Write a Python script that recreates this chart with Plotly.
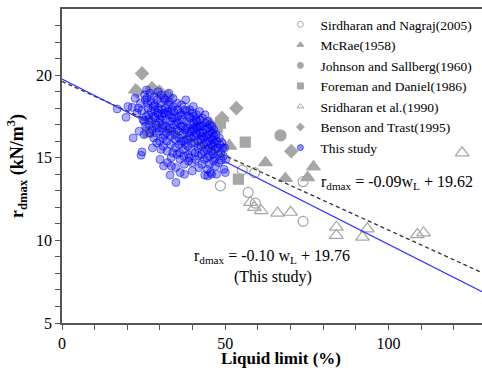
import plotly.graph_objects as go

# ---- Literature data: liquid limit (%) vs. maximum dry unit weight (kN/m3) ----
nagraj_ll = [37.5, 48.5, 48.5, 55.2, 57.0, 59.0, 59.2, 73.8, 73.8]
nagraj_rd = [18.0, 15.9, 13.3, 14.25, 12.9, 14.1, 12.25, 13.55, 11.15]

mcrae_ll = [22.5, 27.5, 41.0, 45.4, 49.0, 51.3, 62.3, 68.4, 75.2, 77.0]
mcrae_rd = [19.1, 19.2, 16.9, 17.1, 17.4, 15.7, 14.7, 13.75, 13.8, 14.45]

johnson_ll = [66.9]
johnson_rd = [16.35]

foreman_ll = [26.4, 47.5, 48.5, 56.1, 54.0]
foreman_rd = [16.55, 16.8, 17.1, 15.95, 13.7]

sridharan_ll = [51.2, 57.7, 58.9, 61.0, 66.0, 70.0, 84.0, 84.0, 93.5, 92.0, 108.8, 110.7, 122.5]
sridharan_rd = [15.75, 12.3, 12.0, 11.8, 11.65, 11.7, 10.8, 10.3, 10.7, 10.2, 10.35, 10.45, 15.3]

benson_ll = [24.5, 23.0, 27.6, 29.8, 32.5, 49.0, 53.4, 70.2]
benson_rd = [20.1, 19.0, 19.2, 19.0, 18.7, 17.4, 18.0, 15.4]

# ---- This study ----
study_ll = [
    16.9, 19.6, 20.2, 21.5, 21.8, 22.4, 23.0, 23.4,
    23.6, 24.0, 24.2, 24.5, 24.8, 25.1, 25.3, 25.5, 25.8, 24.4,
    25.2, 25.6, 26.0, 26.3, 26.5, 26.7, 26.9, 25.9, 26.2, 26.6, 27.0, 27.2,
    27.3, 27.4, 27.6, 27.7, 27.9, 28.0, 28.1, 28.2, 28.4, 28.5, 28.6, 28.8,
    28.9, 29.0, 29.1, 29.2, 29.3, 29.4, 29.5, 29.6, 29.7, 29.8, 29.9, 30.0,
    30.1, 30.2, 30.3, 30.4, 30.5, 30.6, 30.7, 30.8, 30.9, 31.0, 31.1, 31.2,
    31.3, 31.4, 31.5, 31.6, 31.7, 31.8, 31.9, 32.0, 32.1, 32.2, 32.3, 32.4,
    32.5, 32.6, 32.7, 32.8, 32.9, 33.0, 33.1, 33.2, 33.3, 33.4, 33.5, 33.6,
    33.7, 33.8, 33.9, 34.0, 34.1, 34.2, 34.3, 34.4, 34.5, 34.6, 34.7, 34.8,
    33.1, 34.9, 35.0, 35.1, 35.2, 35.3, 35.4, 35.5, 35.6, 35.7, 35.8, 35.9,
    36.0, 36.1, 36.2, 36.3, 36.4, 36.5, 36.6, 36.7, 36.8, 36.9, 37.0, 37.1,
    37.2, 37.3, 37.4, 37.5, 37.6, 37.7, 37.8, 37.9, 38.0, 38.1, 38.2, 38.3,
    38.4, 38.5, 38.6, 38.7, 38.8, 38.9, 39.0, 39.1, 39.2, 39.3, 39.4, 39.5,
    39.6, 39.7, 39.8, 39.9, 40.0, 40.1, 40.2, 40.3, 40.4, 40.5, 40.6, 40.7,
    40.8, 40.9, 41.0, 41.1, 41.2, 41.3, 41.4, 41.5, 41.6, 41.7, 41.8, 41.9,
    42.0, 42.1, 42.2, 42.3, 42.4, 42.5, 42.6, 42.7, 42.8, 42.9, 43.0, 43.1,
    43.2, 43.3, 43.4, 43.5, 43.6, 43.7, 43.8, 43.9, 44.0, 44.1, 44.2, 44.3,
    44.4, 44.5, 44.6, 44.7, 44.8, 44.9, 45.0, 45.1, 45.2, 45.3, 45.4, 45.5,
    45.6, 45.7, 45.8, 45.9, 46.0, 46.1, 46.2, 46.3, 46.4, 46.5, 46.6, 46.7,
    46.8, 46.9, 47.0, 47.2, 47.4, 47.6, 47.8, 48.0, 48.2, 48.4, 48.6, 48.8,
    49.0, 49.2, 49.4, 49.6, 49.8, 50.0, 50.2, 44.6, 45.8, 47.3,
]
study_rd = [
    17.95, 17.45, 18.1, 18.05, 16.2, 18.6, 17.7, 18.0,
    16.6, 18.3, 15.15, 15.35, 17.3, 16.4, 18.8, 18.5, 17.5, 17.85,
    17.2, 16.9, 18.6, 18.0, 17.6, 17.0, 16.5, 19.1, 18.3, 17.3, 18.9, 18.4,
    17.8, 17.2, 16.7, 15.6, 18.1, 17.5, 16.2, 18.7, 18.2, 17.9, 17.4, 17.0,
    16.5, 15.9, 18.5, 16.8, 17.7, 19.0, 18.0, 17.6, 17.1, 16.6, 16.0, 14.9,
    17.3, 18.3, 15.5, 18.8, 17.9, 17.5, 17.0, 16.8, 16.2, 15.7, 14.5, 17.7,
    18.6, 16.4, 18.5, 18.0, 17.7, 17.3, 16.9, 16.5, 16.0, 15.4, 14.7, 17.8,
    16.7, 18.2, 18.9, 18.4, 17.6, 17.2, 16.8, 16.3, 15.8, 15.0, 14.5, 17.9,
    16.6, 17.4, 15.3, 18.6, 18.1, 17.8, 17.4, 17.0, 16.4, 16.1, 15.6, 14.4,
    13.95, 13.5, 17.2, 16.7, 15.2, 18.3, 17.9, 17.5, 17.1, 16.6, 16.2, 15.8,
    15.3, 14.9, 14.1, 17.7, 16.9, 16.0, 18.2, 17.6, 17.3, 16.9, 16.4, 16.0,
    15.5, 15.1, 14.6, 14.0, 17.9, 16.7, 15.8, 18.5, 17.8, 17.2, 16.8, 16.5,
    16.1, 15.7, 15.2, 14.8, 17.5, 16.3, 15.0, 17.9, 17.4, 17.0, 16.6, 16.2,
    15.9, 15.4, 14.7, 14.2, 17.7, 16.8, 18.1, 17.5, 17.1, 16.7, 16.3, 15.9,
    15.3, 14.9, 16.5, 17.3, 17.6, 17.2, 16.8, 16.4, 16.0, 15.6, 15.1, 14.4,
    16.9, 17.8, 17.3, 16.9, 16.5, 16.1, 15.7, 15.2, 14.6, 16.3, 17.4, 16.9,
    16.5, 16.2, 15.8, 15.4, 14.9, 13.95, 17.6, 17.1, 16.7, 16.3, 15.9, 15.5,
    15.0, 14.3, 17.2, 16.8, 16.4, 16.0, 15.6, 15.1, 14.6, 17.0, 16.6, 14.1,
    16.2, 15.8, 15.4, 16.9, 16.5, 16.1, 15.7, 15.2, 14.8, 16.7, 16.3, 15.9,
    15.5, 15.0, 14.5, 16.4, 16.0, 15.6, 15.2, 14.7, 16.2, 15.8, 15.3, 14.85,
    15.9, 15.6, 15.1, 14.3, 15.6, 14.1, 14.9, 13.9, 14.0, 14.0,
]

# ---- Regression lines (slope, intercept) ----
fit_all = (-0.09, 19.62)
fit_study = (-0.10, 19.76)
line_ll = [0, 128.6]

x_ticks = list(range(0, 130, 10))
x_labels = ["0", "", "", "", "", "50", "", "", "", "", "100", "", ""]
y_ticks = list(range(5, 24))
y_labels = [str(v) if v % 5 == 0 else "" for v in y_ticks]

GRAY = "#a6a6a6"
SERIF = "Times New Roman, serif"

fig = go.Figure()

lit_series = [
    ("Sirdharan and Nagraj(2005)", nagraj_ll, nagraj_rd, "circle-open", 10),
    ("McRae(1958)", mcrae_ll, mcrae_rd, "triangle-up", 12),
    ("Johnson and Sallberg(1960)", johnson_ll, johnson_rd, "circle", 11),
    ("Foreman and Daniel(1986)", foreman_ll, foreman_rd, "square", 10),
    ("Sridharan et al.(1990)", sridharan_ll, sridharan_rd, "triangle-up-open", 12),
    ("Benson and Trast(1995)", benson_ll, benson_rd, "diamond", 10),
]

for name, xs, ys, sym, size in lit_series:
    fig.add_trace(go.Scatter(
        x=xs, y=ys, mode="markers", name=name, legendgroup=name, showlegend=False,
        marker=dict(symbol=sym, size=size, color=GRAY, line=dict(color=GRAY, width=1.2)),
    ))

study_marker = dict(symbol="circle", size=8, color="rgba(0,0,255,0.32)",
                    line=dict(color="rgba(0,0,255,0.5)", width=1))
fig.add_trace(go.Scatter(
    x=study_ll, y=study_rd, mode="markers", name="This study",
    legendgroup="This study", showlegend=False, marker=study_marker,
))

# Regression lines
fig.add_trace(go.Scatter(
    x=line_ll, y=[fit_all[0] * v + fit_all[1] for v in line_ll], mode="lines",
    line=dict(color="#333333", width=1.3, dash="4px,3px"), showlegend=False,
))
fig.add_trace(go.Scatter(
    x=line_ll, y=[fit_study[0] * v + fit_study[1] for v in line_ll], mode="lines",
    line=dict(color="#3333ff", width=1.2), showlegend=False,
))

# Compact legend entries
for name, _, _, sym, _ in lit_series:
    fig.add_trace(go.Scatter(
        x=[None], y=[None], mode="markers", name=name, legendgroup=name,
        marker=dict(symbol=sym, size=6, color=GRAY, line=dict(color=GRAY, width=1)),
    ))
fig.add_trace(go.Scatter(
    x=[None], y=[None], mode="markers", name="This study", legendgroup="This study",
    marker=dict(symbol="circle", size=6, color="rgba(0,0,255,0.42)",
                line=dict(color="rgba(0,0,255,0.55)", width=1)),
))

fig.add_annotation(
    x=102.5, y=13.5, xref="x", yref="y", showarrow=False,
    text="r<sub>dmax</sub> = -0.09w<sub>L</sub> + 19.62",
    font=dict(family=SERIF, size=16, color="black"),
)
fig.add_annotation(
    x=64.3, y=9.05, xref="x", yref="y", showarrow=False,
    text="r<sub>dmax</sub> = -0.10 w<sub>L</sub> + 19.76",
    font=dict(family=SERIF, size=16, color="black"),
)
fig.add_annotation(
    x=64.6, y=7.8, xref="x", yref="y", showarrow=False,
    text="(This study)",
    font=dict(family=SERIF, size=16, color="black"),
)
# x-axis title, set close under the tick labels
fig.add_annotation(
    x=0.521, y=-0.114, xref="paper", yref="paper", xanchor="center", yanchor="middle",
    showarrow=False, text="<b>Liquid limit (%)</b>",
    font=dict(family=SERIF, size=17, color="black"),
)

fig.update_layout(
    width=482, height=376,
    margin=dict(l=62, r=0, t=9, b=53, autoexpand=False),
    paper_bgcolor="white", plot_bgcolor="white",
    font=dict(family=SERIF, size=16, color="black"),
    legend=dict(
        x=0.52, y=1.0, xanchor="left", yanchor="top",
        bgcolor="rgba(0,0,0,0)", borderwidth=0,
        font=dict(family=SERIF, size=13.5, color="black"),
        itemwidth=30, tracegroupgap=0,
    ),
    xaxis=dict(
        range=[0, 128.6], tickvals=x_ticks, ticktext=x_labels,
        ticks="outside", ticklen=5, tickcolor="#555555",
        showline=True, linecolor="#555555", linewidth=1.5, mirror=True,
        showgrid=False, zeroline=False,
        tickfont=dict(family=SERIF, size=16),
    ),
    yaxis=dict(
        range=[5, 24], tickvals=y_ticks, ticktext=y_labels,
        ticks="outside", ticklen=5, tickcolor="#555555",
        showline=True, linecolor="#555555", linewidth=1.5,
        showgrid=False, zeroline=False,
        tickfont=dict(family=SERIF, size=16),
        title=dict(text="<b>r<sub>dmax</sub> (kN/m<sup>3</sup>)</b>",
                   font=dict(family=SERIF, size=18), standoff=8),
    ),
)

fig.write_html("out.html")
